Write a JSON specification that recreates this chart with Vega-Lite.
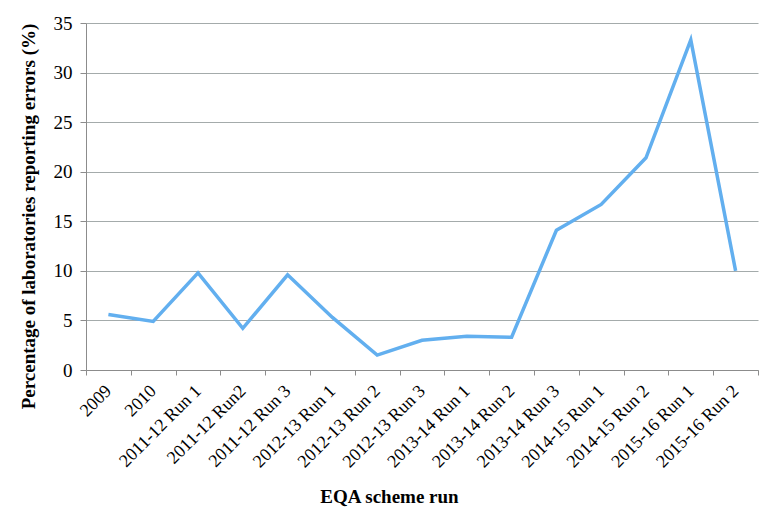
{
  "$schema": "https://vega.github.io/schema/vega-lite/v6.json",
  "width": 672,
  "height": 347,
  "autosize": {"type": "none"},
  "padding": {"left": 86, "top": 23, "right": 22, "bottom": 157},
  "background": "white",
  "config": {"view": {"stroke": null}, "font": "Liberation Serif"},
  "data": {"values": [
    {"run": "2009", "pct": 5.6},
    {"run": "2010", "pct": 4.9},
    {"run": "2011-12 Run 1", "pct": 9.8},
    {"run": "2011-12 Run2", "pct": 4.2},
    {"run": "2011-12 Run 3", "pct": 9.6},
    {"run": "2012-13 Run 1", "pct": 5.3},
    {"run": "2012-13 Run 2", "pct": 1.5},
    {"run": "2012-13 Run 3", "pct": 3.0},
    {"run": "2013-14 Run 1", "pct": 3.4},
    {"run": "2013-14 Run 2", "pct": 3.3},
    {"run": "2013-14 Run 3", "pct": 14.1},
    {"run": "2014-15 Run 1", "pct": 16.7},
    {"run": "2014-15 Run 2", "pct": 21.4},
    {"run": "2015-16 Run 1", "pct": 33.3},
    {"run": "2015-16 Run 2", "pct": 10.0}
  ]},
  "mark": {"type": "line", "color": "#62afef", "strokeWidth": 3.5},
  "encoding": {
    "x": {
      "field": "run", "type": "nominal", "sort": null,
      "bandPosition": 0.5,
      "scale": {"type": "band", "paddingInner": 0, "paddingOuter": 0},
      "title": "EQA scheme run",
      "axis": {
        "tickBand": "extent",
        "labelAngle": -45, "labelAlign": "right", "labelBaseline": "middle",
        "labelFontSize": 18, "labelColor": "black", "labelPadding": 13,
        "domainColor": "#8c8c8c", "tickColor": "#8c8c8c", "tickSize": 5,
        "titleFontSize": 19, "titleFontWeight": "bold", "titleColor": "black",
        "titleX": 303, "titleY": 117, "titleBaseline": "top", "titleAnchor": "middle", "titleAlign": "center",
        "grid": false
      }
    },
    "y": {
      "field": "pct", "type": "quantitative",
      "scale": {"domain": [0, 35], "nice": false},
      "title": "Percentage of laboratories reporting errors (%)",
      "axis": {
        "values": [0, 5, 10, 15, 20, 25, 30, 35],
        "labelFontSize": 19, "labelColor": "black", "labelPadding": 8,
        "domainColor": "#8c8c8c", "tickColor": "#8c8c8c", "tickSize": 6,
        "gridColor": "#a4abab", "gridWidth": 1.2, "gridOpacity": 1,
        "titleFontSize": 19, "titleFontWeight": "bold", "titleColor": "black",
        "titleX": -58, "titleY": 193, "titleBaseline": "middle", "titleAngle": -90, "titleAlign": "center"
      }
    }
  }
}
